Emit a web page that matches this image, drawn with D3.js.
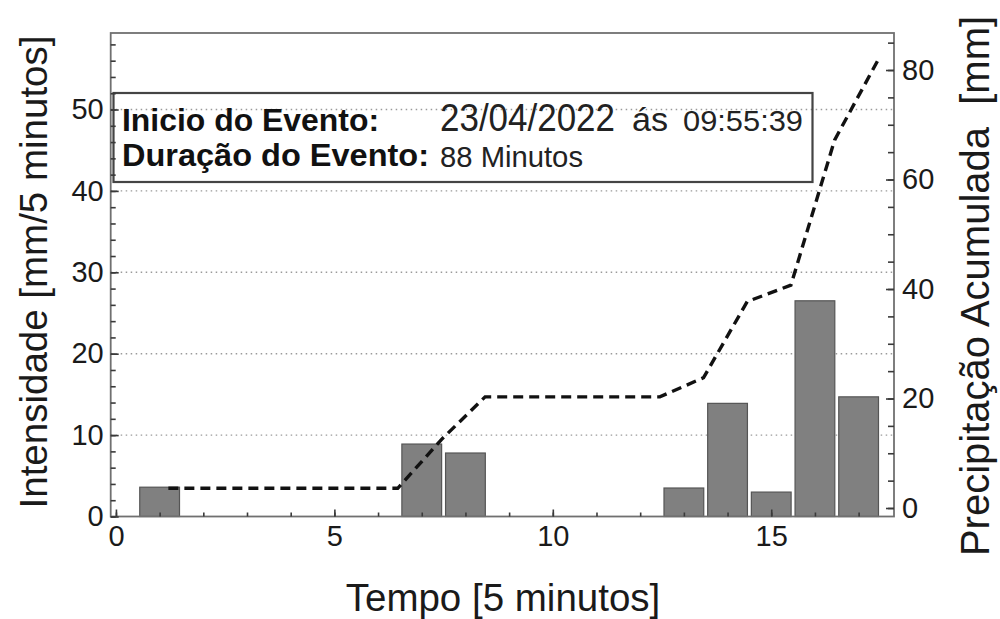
<!DOCTYPE html>
<html>
<head>
<meta charset="utf-8">
<script src="https://cdn.jsdelivr.net/npm/d3@7"></script>
<style>
  html, body { margin: 0; padding: 0; background: #fff; }
  svg { display: block; }
</style>
</head>
<body>
<svg id="chart" width="1000" height="619"></svg>
<script>
// Intensity per 5-minute interval
const intervals = [1, 7, 8, 13, 14, 15, 16, 17];
const intensity = [3.6, 8.9, 7.8, 3.5, 13.9, 3.0, 26.5, 14.7];

// Accumulated precipitation curve
const cumTime = [1.2, 6.45, 7.45, 8.45, 12.45, 13.45, 14.45, 15.45, 16.45, 17.45];
const cumPrecip = [3.6, 3.6, 12.5, 20.3, 20.3, 23.8, 37.7, 40.7, 67.2, 81.9];

// Tick labels
const xTicks = [0, 5, 10, 15];
const leftTicks = [0, 10, 20, 30, 40, 50];
const rightTicks = [0, 20, 40, 60, 80];

// Event information
const infoLabels = ["Inicio do Evento:", "Duração do Evento:"];
const eventDate = "23/04/2022";
const eventTime = "09:55:39";
const eventDuration = "88";

const svg = d3.select("#chart");
const frame = { left: 110.7, right: 894, top: 33, bottom: 516.5 };

const x = d3.scaleLinear().domain([-0.12, 17.81]).range([frame.left, frame.right]);
const yL = d3.scaleLinear().domain([0, 59.4]).range([frame.bottom, frame.top]);
const yR = d3.scaleLinear().domain([-1.55, 86.76]).range([frame.bottom, frame.top]);

const font = "'Liberation Sans', Arial, sans-serif";
const textColor = "#1a1a1a";
const frameColor = "#707070";

// dotted horizontal grid
svg.append("g")
  .selectAll("line")
  .data(leftTicks.filter(d => d > 0))
  .join("line")
  .attr("x1", frame.left).attr("x2", frame.right)
  .attr("y1", d => yL(d)).attr("y2", d => yL(d))
  .attr("stroke", "#9a9a9a")
  .attr("stroke-width", 1.4)
  .attr("stroke-dasharray", "1.5,3.5");

// info box
const box = { x: 113.5, y: 93, w: 699, h: 89 };
svg.append("rect")
  .attr("x", box.x).attr("y", box.y)
  .attr("width", box.w).attr("height", box.h)
  .attr("fill", "none")
  .attr("stroke", "#444")
  .attr("stroke-width", 2.2);

// bars
const barW = 0.91;
svg.append("g")
  .selectAll("rect")
  .data(intervals.map((t, i) => ({ t, v: intensity[i] })))
  .join("rect")
  .attr("x", d => x(d.t - barW / 2))
  .attr("width", d => x(d.t + barW / 2) - x(d.t - barW / 2))
  .attr("y", d => yL(d.v))
  .attr("height", d => yL(0) - yL(d.v))
  .attr("fill", "#808080")
  .attr("stroke", "#555")
  .attr("stroke-width", 1.2);

// accumulated precipitation
const line = d3.line().x(d => x(d[0])).y(d => yR(d[1]));
svg.append("path")
  .datum(cumTime.map((t, i) => [t, cumPrecip[i]]))
  .attr("d", line)
  .attr("fill", "none")
  .attr("stroke", "#111")
  .attr("stroke-width", 3.4)
  .attr("stroke-dasharray", "10,6");

// frame
svg.append("rect")
  .attr("x", frame.left).attr("y", frame.top)
  .attr("width", frame.right - frame.left)
  .attr("height", frame.bottom - frame.top)
  .attr("fill", "none")
  .attr("stroke", frameColor)
  .attr("stroke-width", 1.8);

function styleAxis(g) {
  g.select(".domain").remove();
  g.selectAll(".tick line").attr("stroke", "#3a3a3a").attr("stroke-width", 1.6);
  g.selectAll(".tick text")
    .attr("fill", textColor)
    .style("font-family", font)
    .style("font-size", "29px");
}

// left axis: minor ticks then labelled ticks
svg.append("g")
  .attr("transform", `translate(${frame.left},0)`)
  .call(d3.axisLeft(yL).tickValues(d3.range(0, 59, 2)).tickSize(-5).tickFormat(""))
  .call(styleAxis);
svg.append("g")
  .attr("transform", `translate(${frame.left},0)`)
  .call(d3.axisLeft(yL).tickValues(leftTicks).tickSize(-8).tickPadding(7).tickFormat(d3.format("d")))
  .call(styleAxis);

// right axis
svg.append("g")
  .attr("transform", `translate(${frame.right},0)`)
  .call(d3.axisRight(yR).tickValues(d3.range(0, 86, 5)).tickSize(-6).tickFormat(""))
  .call(styleAxis);
svg.append("g")
  .attr("transform", `translate(${frame.right},0)`)
  .call(d3.axisRight(yR).tickValues(rightTicks).tickSize(-8).tickPadding(8).tickFormat(d3.format("d")))
  .call(styleAxis);

// bottom axis
svg.append("g")
  .attr("transform", `translate(0,${frame.bottom})`)
  .call(d3.axisBottom(x).tickValues(d3.range(0, 18, 1)).tickSize(-4).tickFormat(""))
  .call(styleAxis);
svg.append("g")
  .attr("transform", `translate(0,${frame.bottom})`)
  .call(d3.axisBottom(x).tickValues(xTicks).tickSize(-7).tickPadding(9).tickFormat(d3.format("d")))
  .call(styleAxis);

// axis titles
svg.append("text")
  .attr("x", 503).attr("y", 611)
  .attr("text-anchor", "middle")
  .attr("fill", textColor)
  .style("font-family", font).style("font-size", "38.5px")
  .text("Tempo [5 minutos]");

svg.append("text")
  .attr("transform", "translate(47,272) rotate(-90)")
  .attr("text-anchor", "middle")
  .attr("fill", textColor)
  .style("font-family", font).style("font-size", "38.5px")
  .text("Intensidade [mm/5 minutos]");

svg.append("text")
  .attr("transform", "translate(989,286) rotate(-90)")
  .attr("text-anchor", "middle")
  .attr("fill", textColor)
  .style("font-family", font).style("font-size", "40px")
  .style("white-space", "pre")
  .text("Precipitação Acumulada  [mm]");

// info text: each entry sized to its slot in the box
function infoText(str, px, py, size, width, bold) {
  svg.append("text")
    .attr("x", px).attr("y", py)
    .attr("fill", bold ? "#111" : "#222")
    .attr("textLength", width)
    .attr("lengthAdjust", "spacingAndGlyphs")
    .style("font-family", font)
    .style("font-weight", bold ? "bold" : "normal")
    .style("font-size", size + "px")
    .text(str);
}
infoText(infoLabels[0], 122, 131, 32, 257, true);
infoText(infoLabels[1], 122, 166, 31, 307, true);
infoText(eventDate, 440, 131, 38, 175, false);
infoText("ás", 632, 131, 33, 36, false);
infoText(eventTime, 683, 131, 29, 120, false);
infoText(eventDuration + " Minutos", 440, 167, 30, 143, false);
</script>
</body>
</html>
